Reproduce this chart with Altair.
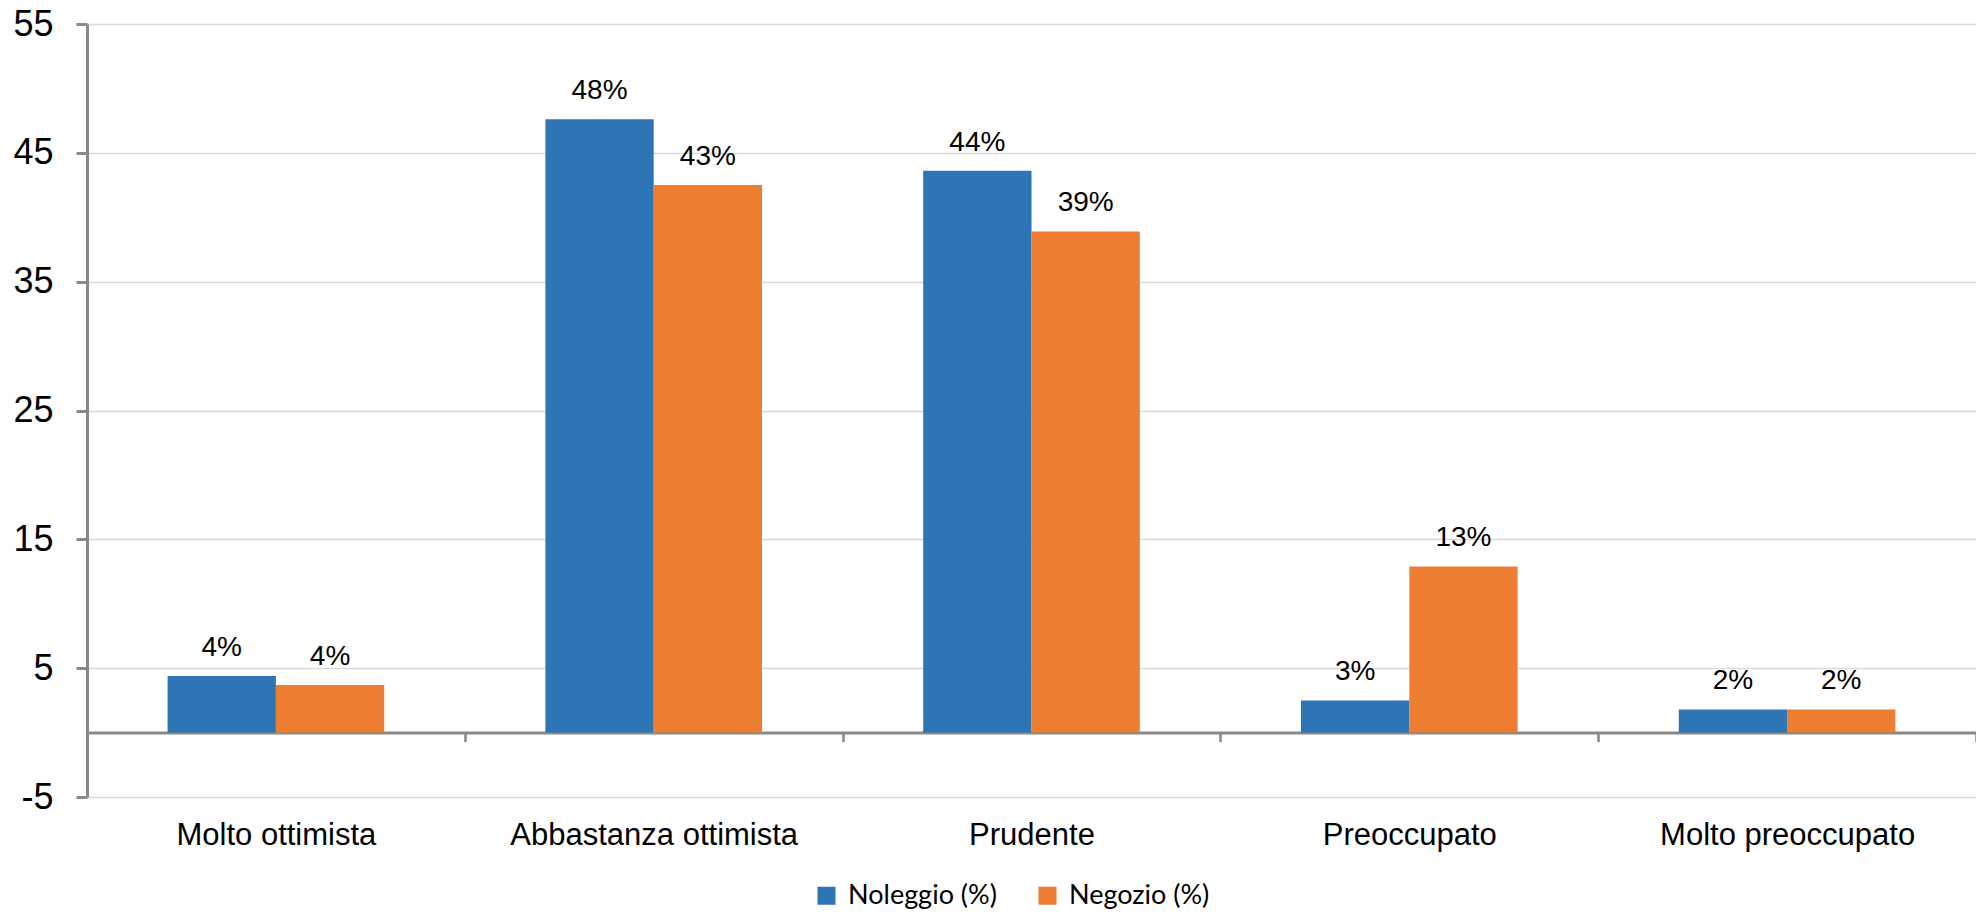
import altair as alt
import pandas as pd

categories = ["Molto ottimista", "Abbastanza ottimista", "Prudente", "Preoccupato", "Molto preoccupato"]
series = ["Noleggio (%)", "Negozio (%)"]
colors = ["#2E75B6", "#ED7D31"]
noleggio = [4.4, 47.6, 43.6, 2.5, 1.8]
negozio = [3.7, 42.5, 38.9, 12.9, 1.8]
noleggio_labels = ["4%", "48%", "44%", "3%", "2%"]
negozio_labels = ["4%", "43%", "39%", "13%", "2%"]
y_ticks = [-5, 5, 15, 25, 35, 45, 55]

rows = []
for i, c in enumerate(categories):
    rows.append({"cat": c, "serie": series[0], "val": noleggio[i], "lab": noleggio_labels[i]})
    rows.append({"cat": c, "serie": series[1], "val": negozio[i], "lab": negozio_labels[i]})
df = pd.DataFrame(rows)

W = 1889
H = 773
axis_gray = "#898989"

x_enc = alt.X(
    "cat:N",
    sort=categories,
    scale=alt.Scale(paddingInner=0, paddingOuter=0),
    axis=alt.Axis(
        title=None,
        orient="bottom",
        offset=-H * 5 / 60,
        domainColor=axis_gray,
        domainWidth=3,
        ticks=True,
        tickBand="extent",
        tickColor=axis_gray,
        tickWidth=2.5,
        tickSize=9,
        labelFont="Liberation Sans",
        labelFontSize=31,
        labelColor="black",
        labelPadding=79,
        labelAngle=0,
        labelLimit=0,
        grid=False,
    ),
)
xo_enc = alt.XOffset(
    "serie:N", sort=series, scale=alt.Scale(paddingInner=0, paddingOuter=0.744)
)
y_enc = alt.Y(
    "val:Q",
    scale=alt.Scale(domain=[-5, 55], nice=False, zero=False),
    axis=alt.Axis(
        title=None,
        values=y_ticks,
        labelExpr="'' + datum.value",
        domainColor=axis_gray,
        domainWidth=3,
        tickColor=axis_gray,
        tickWidth=3,
        tickSize=11,
        labelFont="Liberation Sans",
        labelFontSize=36,
        labelColor="black",
        labelPadding=23,
        grid=True,
        gridColor="#d9d9d9",
        gridWidth=1.5,
    ),
)
color_enc = alt.Color(
    "serie:N",
    sort=series,
    scale=alt.Scale(domain=series, range=colors),
    legend=alt.Legend(
        title=None,
        orient="none",
        legendX=726,
        legendY=858,
        direction="horizontal",
        symbolType="square",
        symbolSize=324,
        symbolStrokeWidth=0,
        labelFont="Lato",
        labelFontSize=27,
        labelColor="black",
        labelOffset=8,
        labelLimit=0,
        columnPadding=37,
    ),
)

bars = alt.Chart(df).mark_bar().encode(x=x_enc, xOffset=xo_enc, y=y_enc, color=color_enc)
labels = alt.Chart(df).mark_text(
    dy=-20, baseline="alphabetic", font="Liberation Sans", fontSize=28, color="black"
).encode(x=x_enc, xOffset=xo_enc, y=y_enc, text="lab:N")

chart = (
    alt.layer(bars, labels)
    .properties(
        width=W,
        height=H,
        padding={"left": 79, "top": 16, "right": 0, "bottom": 112},
        autosize=alt.AutoSizeParams(type="none"),
    )
    .configure_view(stroke=None)
)

chart.save("out.html", embed_options={"renderer": "svg", "actions": False})
